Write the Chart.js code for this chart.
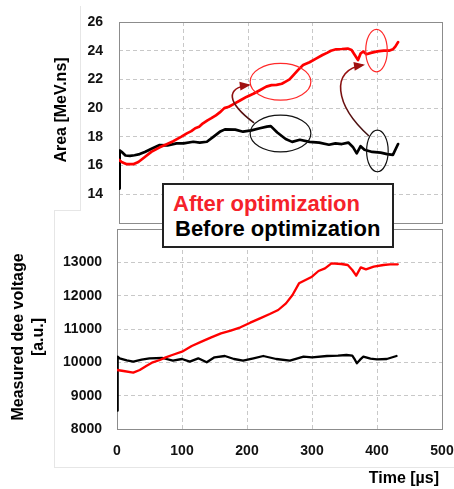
<!DOCTYPE html>
<html>
<head>
<meta charset="utf-8">
<script src="https://cdn.jsdelivr.net/npm/chart.js@4.4.1/dist/chart.umd.min.js"></script>
<style>
  body { margin: 0; background: #fff; }
  #wrap { position: relative; width: 454px; height: 489px; overflow: hidden; font-family: 'Liberation Sans', Arial, sans-serif; }
  canvas { position: absolute; left: 0; }
  #areaChart { top: 0; }
  #voltChart { top: 226px; }
  .frame { position: absolute; background: #e6e6e6; }
  #legendBox { position: absolute; left: 162px; top: 183px; width: 232px; height: 65px; box-sizing: border-box; border: 2px solid #222; background: #fff; }
  #legendBox span { position: absolute; font-weight: bold; font-size: 22px; line-height: 22px; white-space: nowrap; }
</style>
</head>
<body>
<div id="wrap">
  <div class="frame" style="left:80px;top:6px;width:1px;height:204px"></div>
  <div class="frame" style="left:54px;top:210px;width:27px;height:1px"></div>
  <div class="frame" style="left:54px;top:210px;width:1px;height:258px"></div>
  <div class="frame" style="left:54px;top:467px;width:400px;height:1px"></div>
  <canvas id="areaChart" width="454" height="228"></canvas>
  <canvas id="voltChart" width="454" height="263"></canvas>
  <div id="legendBox">
    <span style="left:9px;top:8px;color:#f5222a">After optimization</span>
    <span style="left:11px;top:33px;color:#000">Before optimization</span>
  </div>
</div>
<script>
// top panel: beam area [MeV.ns] vs time [us]
const afterAreaTime = [0, 4, 12, 22, 30, 40, 50, 63, 72, 84, 96, 105, 112, 118, 124, 130, 137, 143, 150, 156, 163, 170, 178, 188, 198, 208, 218, 228, 236, 244, 252, 258, 264, 270, 277, 285, 295, 305, 315, 322, 328, 336, 345, 354, 360, 365, 370, 374, 378, 383, 390, 400, 410, 418, 424, 428, 432];
const afterArea = [16.4, 16.25, 16.1, 16.1, 16.25, 16.6, 16.95, 17.27, 17.45, 17.7, 18.0, 18.24, 18.4, 18.6, 18.7, 18.94, 19.15, 19.3, 19.5, 19.7, 20.0, 20.1, 20.3, 20.55, 20.8, 21.0, 21.25, 21.5, 21.6, 21.62, 21.7, 21.85, 22.0, 22.3, 22.65, 23.0, 23.2, 23.45, 23.7, 23.85, 24.0, 24.1, 24.12, 24.15, 24.05, 23.7, 23.35, 23.8, 23.95, 23.75, 23.85, 23.95, 24.0, 24.0, 24.1, 24.3, 24.6];
const beforeAreaTime = [0, 1, 4, 10, 17, 24, 32, 40, 52, 63, 75, 89, 100, 115, 125, 136, 146, 156, 164, 180, 192, 205, 218, 229, 235, 245, 258, 268, 280, 295, 310, 325, 335, 345, 355, 362, 368, 374, 380, 392, 405, 415, 424, 432];
const beforeArea = [14.4, 17.05, 16.96, 16.7, 16.68, 16.72, 16.8, 16.95, 17.2, 17.43, 17.4, 17.55, 17.55, 17.66, 17.6, 17.66, 18.0, 18.35, 18.52, 18.5, 18.36, 18.45, 18.6, 18.71, 18.75, 18.3, 17.85, 17.65, 17.8, 17.65, 17.6, 17.45, 17.55, 17.5, 17.6, 17.3, 16.85, 17.35, 17.1, 16.95, 16.9, 16.8, 16.75, 17.5];

// bottom panel: measured dee voltage [a.u.] vs time [us]
const afterVoltTime = [0, 1, 10, 25, 35, 45, 55, 66, 75, 85, 100, 115, 130, 145, 160, 175, 190, 205, 220, 235, 248, 260, 270, 280, 290, 300, 310, 320, 330, 345, 355, 362, 368, 375, 383, 395, 410, 420, 432];
const afterVolt = [9770, 9770, 9740, 9690, 9770, 9890, 10000, 10070, 10150, 10220, 10320, 10490, 10620, 10750, 10870, 10950, 11050, 11190, 11320, 11450, 11570, 11770, 12020, 12370, 12470, 12570, 12740, 12820, 12970, 12950, 12920, 12770, 12600, 12850, 12790, 12870, 12920, 12940, 12940];
const beforeVoltTime = [0, 1, 4, 15, 25, 38, 50, 70, 86, 100, 112, 125, 138, 150, 166, 180, 194, 210, 225, 245, 266, 287, 300, 323, 340, 353, 362, 366, 369, 374, 379, 390, 400, 415, 430];
const beforeVolt = [8550, 10170, 10120, 10060, 10020, 10080, 10120, 10130, 10050, 10100, 10020, 10120, 10000, 10150, 10190, 10100, 10050, 10120, 10190, 10100, 10050, 10170, 10150, 10190, 10200, 10220, 10200, 10080, 9970, 10080, 10170, 10110, 10090, 10100, 10190];

const timeTickLabels = ['0', '100', '200', '300', '400', '500'];
const areaTickLabels = ['14', '16', '18', '20', '22', '24', '26'];
const voltTickLabels = ['8000', '9000', '10000', '11000', '12000', '13000'];

const seriesNames = ['After optimization', 'Before optimization'];
const afterColor = '#ff0000';
const beforeColor = '#000000';

const fontFamily = "'Liberation Sans', Arial, sans-serif";
const pts = (xs, ys) => xs.map((x, i) => ({ x: x, y: ys[i] }));

const gridStyle = { color: '#c8c8c8', drawTicks: false, lineWidth: 1 };
const tickFont = { family: fontFamily, size: 14, weight: 'bold' };

// keep the plot area where the layout padding puts it
const noPad = s => { s.paddingTop = 0; s.paddingBottom = 0; s.paddingLeft = 0; s.paddingRight = 0; };

const plotFrame = {
  id: 'plotFrame',
  beforeDatasetsDraw(chart) {
    const a = chart.chartArea, ctx = chart.ctx;
    ctx.save();
    ctx.strokeStyle = '#8c8c8c';
    ctx.lineWidth = 1;
    ctx.strokeRect(Math.round(a.left) + 0.5, Math.round(a.top) + 0.5, Math.round(a.right - a.left), Math.round(a.bottom - a.top));
    ctx.restore();
  }
};

// axis titles placed where the original figure has them
const axisTitles = {
  id: 'axisTitles',
  afterDraw(chart, args, opts) {
    const ctx = chart.ctx;
    ctx.save();
    ctx.fillStyle = '#000';
    ctx.textAlign = 'center';
    ctx.textBaseline = 'middle';
    (opts.items || []).forEach(t => {
      ctx.save();
      ctx.font = 'bold ' + t.size + 'px ' + fontFamily;
      ctx.translate(t.x, t.y);
      if (t.rotate) ctx.rotate(-Math.PI / 2);
      if (t.align) ctx.textAlign = t.align;
      ctx.fillText(t.text, 0, 0);
      ctx.restore();
    });
    ctx.restore();
  }
};

// highlight ellipses and arrows of the top panel (in data units)
const ellipses = [
  { x: 250, y: 21.84, rx: 47, ry: 1.28, color: '#ff2a2a' },
  { x: 250, y: 18.24, rx: 47, ry: 1.28, color: '#111' },
  { x: 398.6, y: 24.01, rx: 16.7, ry: 1.48, color: '#ff2a2a' },
  { x: 400, y: 17.02, rx: 16.7, ry: 1.45, color: '#111' }
];
const arrows = [
  [[209, 18.97], [165.6, 20.43], [165.6, 21.41], [201, 21.61]],
  [[387, 18.06], [334, 20.22], [326.5, 22.66], [377.7, 23.0]]
];

const highlights = {
  id: 'highlights',
  afterDatasetsDraw(chart) {
    const ctx = chart.ctx, sx = chart.scales.x, sy = chart.scales.y;
    ctx.save();
    ellipses.forEach(e => {
      const cx = sx.getPixelForValue(e.x), cy = sy.getPixelForValue(e.y);
      const rx = sx.getPixelForValue(e.x + e.rx) - cx;
      const ry = cy - sy.getPixelForValue(e.y + e.ry);
      ctx.beginPath();
      ctx.ellipse(cx, cy, rx, ry, 0, 0, Math.PI * 2);
      ctx.strokeStyle = e.color;
      ctx.lineWidth = 1.2;
      ctx.stroke();
    });
    arrows.forEach(a => {
      const p = a.map(q => [sx.getPixelForValue(q[0]), sy.getPixelForValue(q[1])]);
      const g = ctx.createLinearGradient(p[0][0], p[0][1], p[3][0], p[3][1]);
      g.addColorStop(0, '#3a1010');
      g.addColorStop(1, '#a01010');
      ctx.strokeStyle = g;
      ctx.lineWidth = 1.6;
      ctx.beginPath();
      ctx.moveTo(p[0][0], p[0][1]);
      ctx.bezierCurveTo(p[1][0], p[1][1], p[2][0], p[2][1], p[3][0], p[3][1]);
      ctx.stroke();
      const ang = Math.atan2(p[3][1] - p[2][1], p[3][0] - p[2][0]);
      const L = 9, W = 4.5;
      ctx.fillStyle = '#a01010';
      ctx.beginPath();
      ctx.moveTo(p[3][0] + Math.cos(ang) * 2, p[3][1] + Math.sin(ang) * 2);
      ctx.lineTo(p[3][0] - Math.cos(ang) * L + Math.sin(ang) * W, p[3][1] - Math.sin(ang) * L - Math.cos(ang) * W);
      ctx.lineTo(p[3][0] - Math.cos(ang) * L - Math.sin(ang) * W, p[3][1] - Math.sin(ang) * L + Math.cos(ang) * W);
      ctx.closePath();
      ctx.fill();
    });
    ctx.restore();
  }
};

const baseOptions = (cfg) => ({
  responsive: false,
  animation: false,
  layout: { padding: cfg.padding },
  plugins: {
    legend: { display: false },
    tooltip: { enabled: false },
    axisTitles: { items: cfg.titles }
  },
  elements: { point: { radius: 0 }, line: { tension: 0, borderJoinStyle: 'round', borderCapStyle: 'round' } },
  scales: {
    x: {
      type: 'linear', min: 0, max: 500,
      grid: gridStyle,
      border: { display: false, dash: [4, 3] },
      ticks: {
        display: cfg.showX, stepSize: 100, padding: 14, color: '#111', font: tickFont,
        callback: v => timeTickLabels.includes(String(v)) ? String(v) : ''
      },
      afterFit: s => { s.height = cfg.xHeight; noPad(s); }
    },
    y: {
      min: cfg.yMin, max: cfg.yMax,
      grid: gridStyle,
      border: { display: false, dash: [4, 3] },
      ticks: {
        stepSize: cfg.yStep, padding: cfg.yPad, color: '#111', font: tickFont,
        callback: v => cfg.yLabels.includes(String(v)) ? String(v) : ''
      },
      afterFit: s => { s.width = cfg.yWidth; noPad(s); }
    }
  }
});

new Chart(document.getElementById('areaChart').getContext('2d'), {
  type: 'line',
  data: {
    datasets: [
      { label: seriesNames[0], data: pts(afterAreaTime, afterArea), borderColor: afterColor, borderWidth: 2.7 },
      { label: seriesNames[1], data: pts(beforeAreaTime, beforeArea), borderColor: beforeColor, borderWidth: 2.7 }
    ]
  },
  options: baseOptions({
    padding: { left: 0, right: 12, top: 22, bottom: 5 },
    showX: false, xHeight: 0,
    yMin: 12, yMax: 26, yStep: 2, yPad: 16, yWidth: 119, yLabels: areaTickLabels,
    titles: [{ text: 'Area [MeV.ns]', x: 62, y: 110, size: 16, rotate: true }]
  }),
  plugins: [plotFrame, highlights, axisTitles]
});

new Chart(document.getElementById('voltChart').getContext('2d'), {
  type: 'line',
  data: {
    datasets: [
      { label: seriesNames[0], data: pts(afterVoltTime, afterVolt), borderColor: afterColor, borderWidth: 2.3 },
      { label: seriesNames[1], data: pts(beforeVoltTime, beforeVolt), borderColor: beforeColor, borderWidth: 2.3 }
    ]
  },
  options: baseOptions({
    padding: { left: 0, right: 12, top: 3, bottom: 0 },
    showX: true, xHeight: 60,
    yMin: 8000, yMax: 14000, yStep: 1000, yPad: 15, yWidth: 117, yLabels: voltTickLabels,
    titles: [
      { text: 'Measured dee voltage', x: 19, y: 111, size: 16, rotate: true },
      { text: '[a.u.]', x: 39, y: 111, size: 16, rotate: true },
      { text: 'Time [\u00b5s]', x: 439, y: 253, size: 16, align: 'right' }
    ]
  }),
  plugins: [plotFrame, axisTitles]
});
</script>
</body>
</html>
